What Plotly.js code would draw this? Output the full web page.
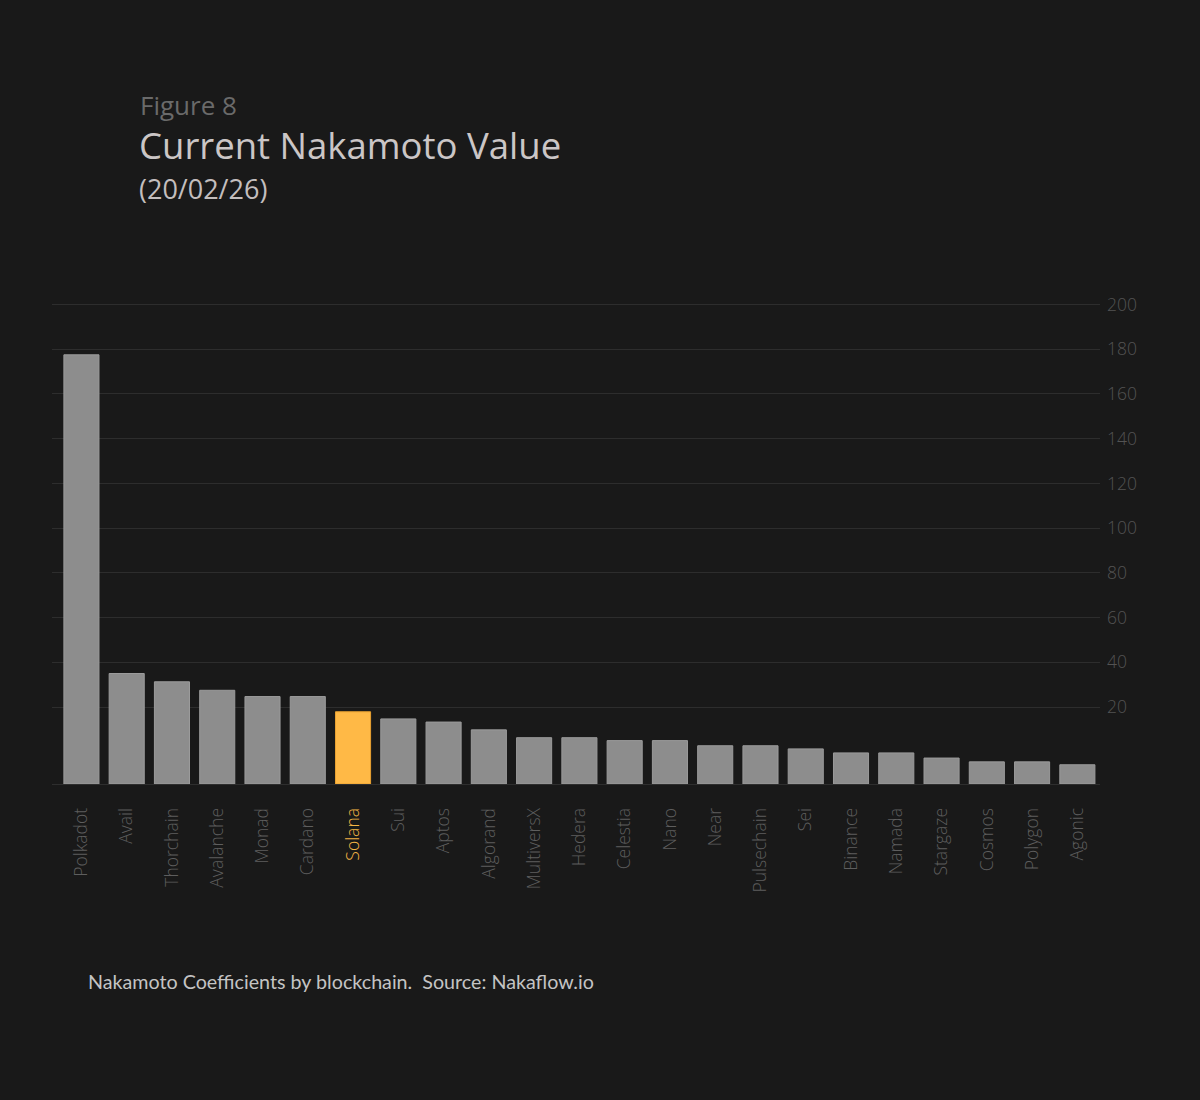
<!DOCTYPE html>
<html>
<head>
<meta charset="utf-8">
<script src="https://cdn.plot.ly/plotly-3.0.1.min.js"></script>
<style>
  html, body { margin: 0; padding: 0; background: #191919; }
  #chart { width: 1200px; height: 1100px; }
</style>
</head>
<body>
<div id="chart"></div>
<script>
// ---- Data (in axis units) ----
const chains = ["Polkadot", "Avail", "Thorchain", "Avalanche", "Monad", "Cardano", "Solana", "Sui",
  "Aptos", "Algorand", "MultiversX", "Hedera", "Celestia", "Nano", "Near", "Pulsechain", "Sei",
  "Binance", "Namada", "Stargaze", "Cosmos", "Polygon", "Agonic"];
const nakamotoTop = [177.5, 35, 31.3, 27.5, 24.7, 24.7, 17.9, 14.7,
  13.3, 9.8, 6.3, 6.3, 5.0, 5.0, 2.7, 2.7, 1.3,
  -0.5, -0.5, -2.8, -4.5, -4.5, -5.8];
const highlight = "Solana";
const yTicks = [20, 40, 60, 80, 100, 120, 140, 160, 180, 200];

const AXIS_MIN = -14.4;
const AXIS_MAX = 202;

const grey = "#8d8d8d", greyLine = "#9b9b9b";
const gold = "#ffb946", goldLine = "#e8a030";

const tickText = chains.map(c => c === highlight
  ? "<span style='color:#f4b545'>" + c + "</span>" : c);

const trace = {
  type: "bar",
  x: chains,
  y: nakamotoTop.map(v => v - AXIS_MIN),
  base: AXIS_MIN,
  marker: {
    color: chains.map(c => c === highlight ? gold : grey),
    line: { color: chains.map(c => c === highlight ? goldLine : greyLine), width: 1 }
  },
  hoverinfo: "skip"
};

// plot area in pixels: 2.236 px per unit, 0 at y=752
const W = 1048, L = 52, B = 784;
const H = Math.round((AXIS_MAX - AXIS_MIN) * 2.236);
const T = B - H;
const px = x => (x - L) / W;
const py = y => (B - y) / H;

const layout = {
  width: 1200, height: 1100,
  paper_bgcolor: "#191919", plot_bgcolor: "#191919",
  margin: { l: L, r: 1200 - L - W, t: T, b: 1100 - B },
  showlegend: false,
  bargap: 0.225,
  font: { family: "Open Sans, sans-serif", color: "#5a5a5a" },
  xaxis: {
    type: "category",
    range: [-0.65, 22.5],
    tickvals: chains,
    ticktext: tickText,
    tickangle: -90,
    tickfont: { family: "Open Sans, sans-serif", size: 17.5, color: "#5e5e5e", weight: 300 },
    ticks: "",
    ticklabelstandoff: 16,
    showgrid: false,
    zeroline: false,
    showline: true,
    linecolor: "#2e2e2e",
    linewidth: 1
  },
  yaxis: {
    range: [AXIS_MIN, AXIS_MAX],
    side: "right",
    tickvals: yTicks,
    ticktext: yTicks.map(String),
    tickfont: { family: "Open Sans, sans-serif", size: 17.5, color: "#535353", weight: 300 },
    ticks: "",
    ticklabelstandoff: 6,
    showgrid: true,
    gridcolor: "#2d2d2d",
    gridwidth: 1,
    zeroline: false,
    showline: false
  },
  annotations: [
    { text: "Figure 8", xref: "paper", yref: "paper", x: px(138), y: py(105),
      xanchor: "left", yanchor: "middle", showarrow: false,
      font: { family: "Open Sans, sans-serif", size: 26, color: "#6a6a6a" } },
    { text: "Current Nakamoto Value", xref: "paper", yref: "paper", x: px(137), y: py(145),
      xanchor: "left", yanchor: "middle", showarrow: false,
      font: { family: "Open Sans, sans-serif", size: 36.5, color: "#cbc6c6" } },
    { text: "(20/02/26)", xref: "paper", yref: "paper", x: px(137), y: py(188),
      xanchor: "left", yanchor: "middle", showarrow: false,
      font: { family: "Open Sans, sans-serif", size: 27, color: "#c3bebe" } },
    { text: "Nakamoto Coefficients by blockchain.&nbsp; Source: Nakaflow.io", xref: "paper", yref: "paper",
      x: px(86), y: py(981), xanchor: "left", yanchor: "middle", showarrow: false,
      font: { family: "Lato, sans-serif", size: 19.7, color: "#c4c4c4" } }
  ]
};

Plotly.newPlot("chart", [trace], layout, { displayModeBar: false, staticPlot: true });
</script>
</body>
</html>
